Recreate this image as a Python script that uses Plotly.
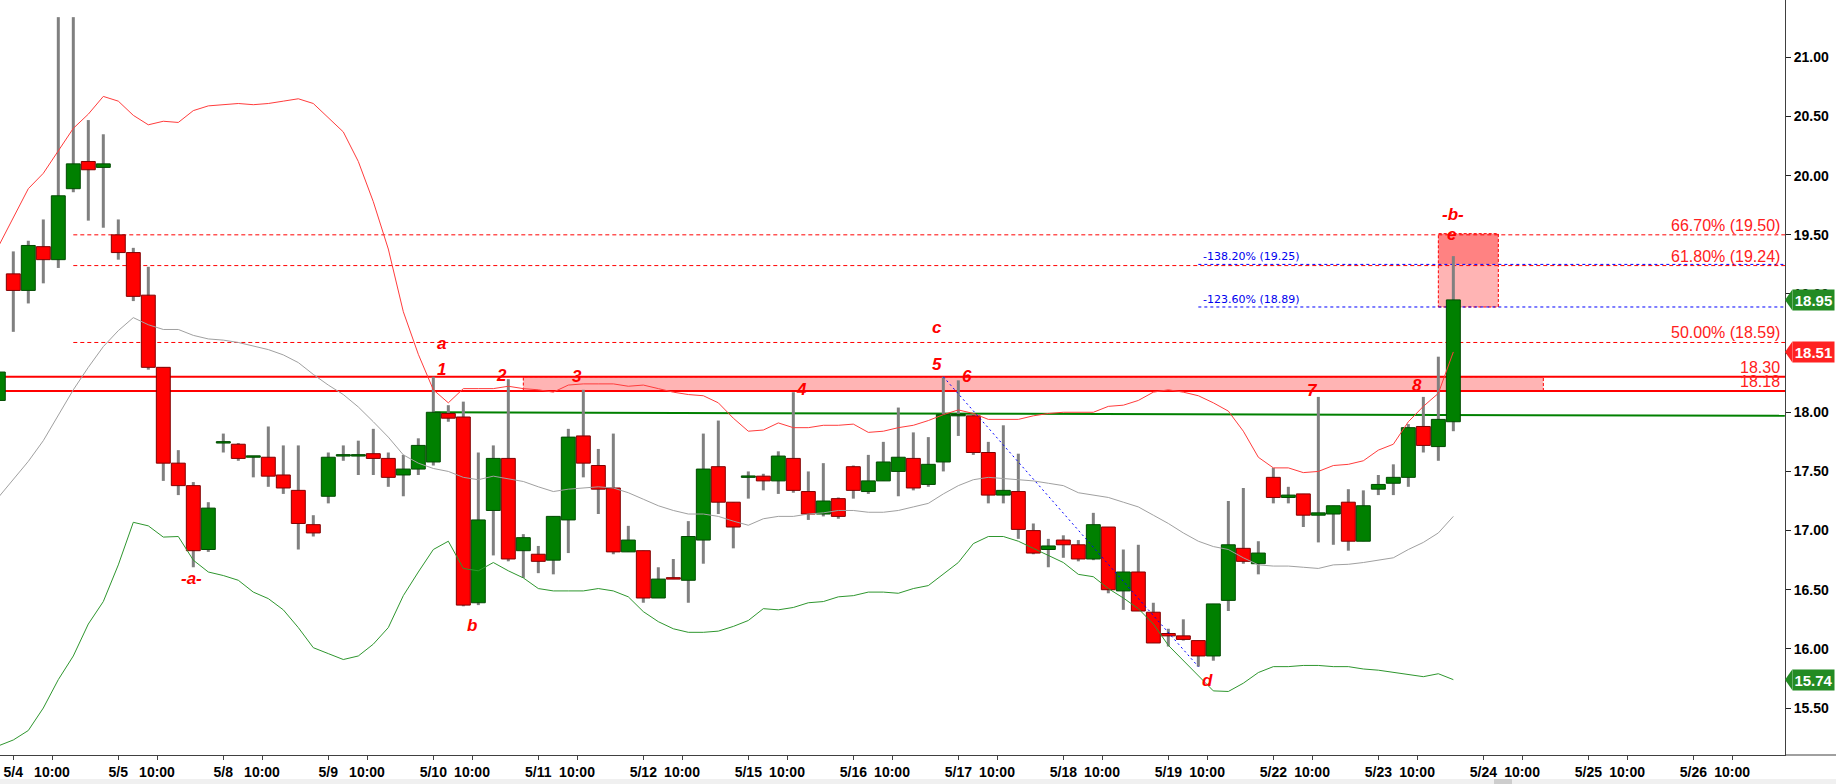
import plotly.graph_objects as go

# ---------------- data ----------------
# bar number: 7 bars per trading day, bar 0 = first bar of 5/4
bar_index = list(range(-1, 97))

open_p = [18.10, 19.17, 19.03, 19.40, 19.29, 19.89, 20.12, 20.07,
          19.50, 19.35, 18.99, 18.38, 17.57, 17.38, 16.84,
          17.74, 17.73, 17.62, 17.62, 17.47, 17.34, 17.05,
          17.29, 17.63, 17.63, 17.65, 17.61, 17.47, 17.52,
          17.58, 17.99, 17.96, 16.39, 17.17, 17.61, 16.83,
          16.80, 16.75, 17.09, 17.80, 17.55, 17.36, 16.82,
          16.83, 16.43, 16.60, 16.58, 16.92, 17.54, 17.24,
          17.45, 17.46, 17.42, 17.61, 17.33, 17.14, 17.27,
          17.54, 17.33, 17.42, 17.50, 17.61, 17.39, 17.58,
          17.97, 17.97, 17.66, 17.30, 17.33, 17.00, 16.84,
          16.92, 16.88, 16.76, 17.03, 16.49, 16.65, 16.31,
          16.13, 16.11, 16.07, 15.94, 16.41, 16.85, 16.72,
          17.45, 17.28, 17.31, 17.13, 17.14, 17.24, 16.91,
          17.35, 17.40, 17.45, 17.88, 17.71, 17.92]
high_p = [18.38, 19.36, 19.45, 19.63, 21.34, 21.34, 20.47, 20.35,
          19.63, 19.39, 19.23, 18.38, 17.68, 17.41, 17.24,
          17.82, 17.74, 17.63, 17.88, 17.72, 17.72, 17.13,
          17.66, 17.72, 17.76, 17.86, 17.66, 17.64, 17.78,
          18.30, 18.06, 18.09, 17.66, 17.72, 18.28, 16.97,
          16.87, 17.12, 17.86, 18.19, 17.69, 17.82, 17.04,
          16.83, 16.69, 16.76, 17.08, 17.82, 17.93, 17.24,
          17.50, 17.48, 17.67, 18.17, 17.50, 17.57, 17.28,
          17.55, 17.64, 17.75, 18.04, 17.83, 17.79, 18.30,
          18.27, 17.98, 17.75, 17.89, 17.65, 17.06, 16.93,
          16.96, 16.92, 17.15, 17.03, 16.84, 16.88, 16.39,
          16.17, 16.25, 16.07, 16.38, 17.25, 17.36, 16.91,
          17.53, 17.37, 17.31, 18.13, 17.21, 17.35, 17.34,
          17.47, 17.56, 17.90, 18.13, 18.47, 19.32]
low_p = [18.05, 18.68, 18.92, 19.09, 19.22, 19.86, 19.62, 19.56,
         19.29, 18.94, 18.36, 17.42, 17.30, 16.69, 16.82,
         17.66, 17.59, 17.45, 17.37, 17.31, 16.84, 16.95,
         17.23, 17.59, 17.47, 17.47, 17.37, 17.29, 17.47,
         17.55, 17.92, 16.36, 16.37, 16.79, 16.74, 16.60,
         16.64, 16.63, 16.81, 17.45, 17.14, 16.80, 16.82,
         16.39, 16.43, 16.59, 16.39, 16.72, 17.14, 16.85,
         17.27, 17.34, 17.31, 17.32, 17.09, 17.12, 17.10,
         17.27, 17.31, 17.42, 17.29, 17.34, 17.37, 17.50,
         17.80, 17.64, 17.23, 17.23, 16.93, 16.80, 16.69,
         16.77, 16.74, 16.75, 16.47, 16.33, 16.32, 16.05,
         16.02, 16.07, 15.85, 15.90, 16.32, 16.72, 16.63,
         17.23, 17.23, 17.03, 16.90, 16.88, 16.83, 16.91,
         17.30, 17.30, 17.37, 17.66, 17.59, 17.84]
close_p = [18.34, 19.03, 19.41, 19.29, 19.83, 20.10, 20.05, 20.10,
           19.35, 18.98, 18.38, 17.57, 17.38, 16.83, 17.19,
           17.74, 17.61, 17.62, 17.46, 17.36, 17.06, 16.98,
           17.62, 17.63, 17.64, 17.61, 17.45, 17.52, 17.72,
           18.00, 17.95, 16.37, 17.09, 17.61, 16.76, 16.94,
           16.74, 17.12, 17.79, 17.57, 17.35, 16.82, 16.92,
           16.43, 16.59, 16.59, 16.95, 17.52, 17.24, 17.03,
           17.46, 17.42, 17.63, 17.34, 17.14, 17.25, 17.12,
           17.34, 17.42, 17.58, 17.62, 17.36, 17.56, 17.98,
           17.98, 17.66, 17.30, 17.34, 17.01, 16.81, 16.87,
           16.88, 16.76, 17.05, 16.50, 16.65, 16.32, 16.05,
           16.11, 16.08, 15.94, 16.38, 16.88, 16.74, 16.81,
           17.28, 17.30, 17.13, 17.15, 17.21, 16.91, 17.21,
           17.39, 17.45, 17.87, 17.72, 17.94, 18.95]

band_upper = [19.40, 19.64, 19.89, 20.02, 20.21, 20.40, 20.52, 20.67,
              20.63, 20.51, 20.43, 20.46, 20.45, 20.55, 20.59,
              20.60, 20.61, 20.60, 20.61, 20.63, 20.65, 20.61,
              20.49, 20.37, 20.12, 19.78, 19.38, 18.85, 18.49,
              18.19, 18.08, 18.20, 18.20, 18.20, 18.22, 18.20,
              18.19, 18.17, 18.23, 18.24, 18.24, 18.24, 18.22,
              18.23, 18.20, 18.17, 18.15, 18.14, 18.08, 17.95,
              17.84, 17.85, 17.91, 17.87, 17.87, 17.89, 17.89,
              17.90, 17.83, 17.84, 17.87, 17.89, 17.93, 17.98,
              18.02, 17.99, 17.94, 17.94, 17.94, 17.97, 17.99,
              18.00, 18.00, 18.00, 18.05, 18.06, 18.10, 18.17,
              18.19, 18.17, 18.14, 18.08, 18.01, 17.84, 17.62,
              17.53, 17.53, 17.49, 17.50, 17.55, 17.56, 17.59,
              17.68, 17.73, 17.92, 18.05, 18.16, 18.51]
band_mid = [17.28, 17.43, 17.585, 17.76, 17.97, 18.19, 18.38, 18.555,
            18.69, 18.80, 18.74, 18.70, 18.70, 18.65, 18.62,
            18.61, 18.59, 18.56, 18.53, 18.485, 18.42, 18.32,
            18.23, 18.15, 18.045, 17.92, 17.79, 17.64, 17.57,
            17.525, 17.50, 17.45, 17.43, 17.46, 17.44, 17.415,
            17.37, 17.33, 17.35, 17.36, 17.37, 17.36, 17.32,
            17.265, 17.21, 17.17, 17.14, 17.14, 17.12, 17.08,
            17.045, 17.10, 17.12, 17.12, 17.14, 17.15, 17.17,
            17.17, 17.155, 17.155, 17.17, 17.20, 17.23, 17.31,
            17.38, 17.43, 17.45, 17.44, 17.43, 17.42, 17.40,
            17.38, 17.32, 17.30, 17.28, 17.24, 17.20, 17.13,
            17.06, 16.98, 16.91, 16.865, 16.84, 16.77, 16.71,
            16.70, 16.70, 16.69, 16.68, 16.71, 16.715, 16.73,
            16.75, 16.77, 16.84, 16.90, 16.98, 17.12]
band_lower = [15.18, 15.23, 15.31, 15.50, 15.74, 15.94, 16.21, 16.40,
              16.71, 17.07, 17.04, 16.945, 16.95, 16.75, 16.65,
              16.62, 16.58, 16.48, 16.425, 16.33, 16.18, 16.01,
              15.96, 15.91, 15.94, 16.04, 16.18, 16.45, 16.65,
              16.84, 16.91, 16.68, 16.66, 16.73, 16.66, 16.60,
              16.51, 16.49, 16.49, 16.49, 16.51, 16.49, 16.44,
              16.315, 16.23, 16.17, 16.14, 16.14, 16.15, 16.19,
              16.24, 16.34, 16.33, 16.35, 16.39, 16.40, 16.44,
              16.45, 16.48, 16.48, 16.47, 16.51, 16.535, 16.63,
              16.73, 16.89, 16.95, 16.95, 16.91, 16.85, 16.79,
              16.73, 16.63, 16.61, 16.51, 16.43, 16.34, 16.21,
              16.03, 15.90, 15.77, 15.645, 15.64, 15.71, 15.80,
              15.85, 15.85, 15.86, 15.86, 15.85, 15.85, 15.83,
              15.82, 15.80, 15.78, 15.765, 15.79, 15.74]

day_labels = ["5/4", "5/5", "5/8", "5/9", "5/10", "5/11", "5/12", "5/15", "5/16",
              "5/17", "5/18", "5/19", "5/22", "5/23", "5/24", "5/25", "5/26"]
bars_per_day = 7
ten_am_offset = 2.58
y_ticks = [15.5, 16.0, 16.5, 17.0, 17.5, 18.0, 18.5, 19.0, 19.5, 20.0, 20.5, 21.0]

fib_levels = [19.50, 19.24, 18.59]
fib_text = ["66.70% (19.50)", "61.80% (19.24)", "50.00% (18.59)"]
fib_start = 4
ext_levels = [19.25, 18.89]
ext_text = ["-138.20% (19.25)", "-123.60% (18.89)"]
ext_start = 79
zone_levels = [18.30, 18.18]
zone_text = ["18.30", "18.18"]
zone_box_x = [34, 102]
target_box_x = [95, 99]
target_box_y = [18.89, 19.25, 19.51]
trend_x = [28, 118.1]
trend_y = [18.00, 17.97]
diag_x = [62, 79]
diag_y = [18.30, 15.85]

wave_text = ["-a-", "a", "1", "b", "2", "3", "4", "c", "5", "6", "d", "7", "8", "e", "-b-"]
wave_x = [11.9, 28.55, 28.55, 30.6, 32.56, 37.6, 52.56, 61.56, 61.56, 63.6, 79.6, 86.6, 93.56, 95.9, 96.0]
wave_y = [16.57, 18.56, 18.36, 16.17, 18.31, 18.30, 18.19, 18.69, 18.40, 18.30, 15.71, 18.18, 18.23, 19.475, 19.65]

tag_values = [18.95, 18.51, 15.74]
tag_colors = ["#238B23", "#FF2222", "#238B23"]

X_RANGE = [-0.887, 118.11]
Y_RANGE = [15.103, 21.485]

# ---------------- figure ----------------
W, H = 1836, 784
M_L, M_R, M_T, M_B = 0, 51, 0, 29
plot_w = W - M_L - M_R
plot_h = H - M_T - M_B
px_per_price = plot_h / (Y_RANGE[1] - Y_RANGE[0])

up = [c >= o for o, c in zip(open_p, close_p)]
body_base = [min(o, c) for o, c in zip(open_p, close_p)]
body_h = [max(abs(c - o), 0.012) for o, c in zip(open_p, close_p)]
fill = ["#008000" if u else "#FF0000" for u in up]
edge = ["#004A00" if u else "#800000" for u in up]

fig = go.Figure()
# wicks (bars, so they sit under the bodies)
fig.add_trace(go.Bar(x=bar_index, base=low_p, y=[h - l for h, l in zip(high_p, low_p)],
                     width=0.2, marker=dict(color="#808080", line=dict(width=0)),
                     hoverinfo="skip", showlegend=False))
fig.add_trace(go.Bar(x=bar_index, base=body_base, y=body_h, width=0.93,
                     marker=dict(color=fill, line=dict(color=edge, width=1)),
                     hoverinfo="skip", showlegend=False))
for vals, col in [(band_upper, "#FF3C3C"), (band_mid, "#A0A0A0"), (band_lower, "#2E962E")]:
    fig.add_trace(go.Scatter(x=bar_index, y=vals, mode="lines", line=dict(color=col, width=1),
                             hoverinfo="skip", showlegend=False))
fig.add_trace(go.Scatter(x=diag_x, y=diag_y, mode="lines",
                         line=dict(color="#0000FF", width=1, dash="2px,3px"),
                         hoverinfo="skip", showlegend=False))

shapes = []
# pink zone between the two red levels
shapes.append(dict(type="rect", xref="x", yref="y", x0=zone_box_x[0], x1=zone_box_x[1],
                   y0=zone_levels[1], y1=zone_levels[0], fillcolor="#FFB4B4",
                   line=dict(color="#FF0000", width=1, dash="3px,2px"), layer="below"))
# target box at upper right
shapes.append(dict(type="rect", xref="x", yref="y", x0=target_box_x[0], x1=target_box_x[1],
                   y0=target_box_y[0], y1=target_box_y[1], fillcolor="#FFB4B4",
                   line=dict(width=0), layer="below"))
shapes.append(dict(type="rect", xref="x", yref="y", x0=target_box_x[0], x1=target_box_x[1],
                   y0=target_box_y[1], y1=target_box_y[2], fillcolor="#FF8282",
                   line=dict(width=0), layer="below"))
shapes.append(dict(type="rect", xref="x", yref="y", x0=target_box_x[0], x1=target_box_x[1],
                   y0=target_box_y[0], y1=target_box_y[2], fillcolor="rgba(0,0,0,0)",
                   line=dict(color="#FF0000", width=1, dash="3px,2px"), layer="below"))
for lv in fib_levels:
    shapes.append(dict(type="line", xref="x", yref="y", x0=fib_start, x1=X_RANGE[1], y0=lv, y1=lv,
                       line=dict(color="#FF0000", width=1, dash="4px,3px"), layer="below"))
for lv in ext_levels:
    shapes.append(dict(type="line", xref="x", yref="y", x0=ext_start, x1=X_RANGE[1], y0=lv, y1=lv,
                       line=dict(color="#0000FF", width=1, dash="3px,3px"), layer="below"))
for lv in zone_levels:
    shapes.append(dict(type="line", xref="x", yref="y", x0=X_RANGE[0], x1=X_RANGE[1], y0=lv, y1=lv,
                       line=dict(color="#FF0000", width=2), layer="below"))
shapes.append(dict(type="line", xref="x", yref="y", x0=trend_x[0], x1=trend_x[1],
                   y0=trend_y[0], y1=trend_y[1], line=dict(color="#008000", width=2), layer="below"))

# x axis line continues under the price scale; bottom scroll strip
shapes.append(dict(type="line", xref="paper", yref="paper", x0=1, x1=W / plot_w, y0=0, y1=0,
                   line=dict(color="#404040", width=1)))
strip_top = -(779 - plot_h) / plot_h
strip_bot = -(H - plot_h) / plot_h
shapes.append(dict(type="rect", xref="paper", yref="paper", x0=0, x1=W / plot_w,
                   y0=strip_bot, y1=strip_top, fillcolor="#F0F0F0", line=dict(width=0)))
shapes.append(dict(type="rect", xref="paper", yref="paper", x0=1494 / plot_w, x1=1512 / plot_w,
                   y0=strip_bot, y1=strip_top, fillcolor="#CDCDCD", line=dict(width=0)))

annotations = []
label_font = dict(family="Arial, Liberation Sans, sans-serif", size=16, color="#FF2020")
for lv, t in list(zip(fib_levels, fib_text)) + list(zip(zone_levels, zone_text)):
    annotations.append(dict(xref="paper", yref="y", x=(plot_w - 4) / plot_w, y=lv, text=t,
                            xanchor="right", yanchor="bottom", showarrow=False,
                            font=label_font, borderpad=0, yshift=0))
for lv, t in zip(ext_levels, ext_text):
    annotations.append(dict(xref="x", yref="y", x=ext_start, y=lv, text=t, xanchor="left",
                            yanchor="bottom", showarrow=False, xshift=4, borderpad=0,
                            font=dict(family="DejaVu Sans, Verdana, sans-serif", size=11,
                                      color="#0000EE")))
for t, x, y in zip(wave_text, wave_x, wave_y):
    lower = t.strip("-").islower()
    annotations.append(dict(xref="x", yref="y", x=x, y=y, text="<b><i>" + t + "</i></b>",
                            xanchor="center", yanchor="middle", showarrow=False,
                            yshift=3 if lower else 0,
                            font=dict(family="Arial, Liberation Sans, sans-serif", size=17,
                                      color="#FF0000")))

# price tags on the right scale
half = 10.5 / px_per_price
tip = 1.0
body_left = 1 + 6.5 / plot_w
for v, col in zip(tag_values, tag_colors):
    annotations.append(dict(xref="paper", yref="y", x=body_left, y=v, text="<b>%.2f</b>" % v,
                            xanchor="left", yanchor="middle", showarrow=False, width=41,
                            height=20, bgcolor=col, borderpad=0, align="center",
                            font=dict(family="Arial, Liberation Sans, sans-serif", size=15,
                                      color="#FFFFFF")))
    shapes.append(dict(type="path", xref="paper", yref="y",
                       path="M %f,%f L %f,%f L %f,%f Z" % (tip, v, body_left + 0.0005, v + half,
                                                          body_left + 0.0005, v - half),
                       fillcolor=col, line=dict(width=0), layer="above"))

tickvals, ticktext = [], []
for d, lab in enumerate(day_labels):
    tickvals += [d * bars_per_day, d * bars_per_day + ten_am_offset]
    ticktext += [lab, "10:00"]

fig.update_layout(
    width=W, height=H,
    margin=dict(l=M_L, r=M_R, t=M_T, b=M_B, pad=0),
    paper_bgcolor="white", plot_bgcolor="white",
    barmode="overlay", showlegend=False, hovermode=False,
    shapes=shapes, annotations=annotations,
    xaxis=dict(range=X_RANGE, tickvals=tickvals, ticktext=ticktext, tickangle=0,
               showgrid=False, zeroline=False, showline=True, linecolor="#404040", linewidth=1,
               ticks="outside", ticklen=4, tickcolor="#404040",
               tickfont=dict(family="Arial, Liberation Sans, sans-serif", size=14,
                             color="#000000", weight="bold")),
    yaxis=dict(range=Y_RANGE, side="right", tickvals=y_ticks, tickformat=".2f",
               showgrid=False, zeroline=False, showline=True, linecolor="#404040", linewidth=1,
               ticks="outside", ticklen=5, tickcolor="#202020",
               tickfont=dict(family="Arial, Liberation Sans, sans-serif", size=14,
                             color="#000000", weight="bold")),
)

fig.write_html("out.html", config={"displayModeBar": False},
               post_script="document.body.style.margin='0';document.body.style.padding='0';"
                           "document.documentElement.style.overflow='hidden';")
